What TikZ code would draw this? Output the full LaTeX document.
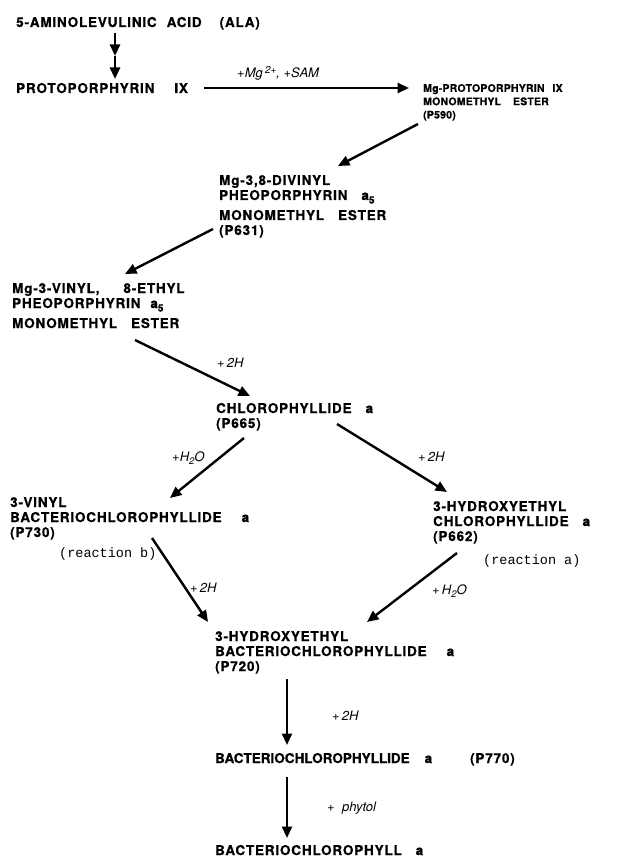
\documentclass[tikz,border=0pt]{standalone}
\usepackage{fontspec}
\setmainfont{TeX Gyre Heros}
\newfontfamily\chemfont[LetterSpace=6,BoldFeatures={FakeBold=0.6}]{TeX Gyre Heros}
\newfontfamily\chemS[LetterSpace=2,BoldFeatures={FakeBold=0.6}]{TeX Gyre Heros}
\newfontfamily\chemT[BoldFeatures={FakeBold=0.6}]{TeX Gyre Heros}
\newfontfamily\twfont{Liberation Mono}
\usetikzlibrary{arrows.meta}
\newcommand{\sfive}{\raisebox{-3.5pt}{\fontsize{10}{10}\selectfont 5}}
\begin{document}
\begin{tikzpicture}[x=1pt,y=-1pt,
  chem/.style={font=\chemfont\bfseries\fontsize{13.5}{15}\selectfont, anchor=base west, inner sep=0pt, align=left},
  chems/.style={chem, font=\chemS\bfseries\fontsize{10.5}{13.3}\selectfont},
  lbl/.style={font=\itshape\fontsize{13}{15}\selectfont, anchor=base west, inner sep=0pt},
  rxn/.style={font=\twfont\fontsize{13.5}{15}\selectfont, anchor=base west, inner sep=0pt},
  arr/.style={line width=2.4pt, -{Triangle[length=11.5pt,width=10pt]}}]
\useasboundingbox[fill=white] (0,0) rectangle (624,858);

% compounds (anchor = baseline of last line)
\node[chem] (ala) at (16,27) {5-AMINOLEVULINIC\hspace{10pt}ACID\hspace{18pt}(ALA)};
\node[chem] (proto) at (16,93) {PROTOPORPHYRIN\hspace{20pt}IX};
\node[chems] (mgp) at (423,118.5) {Mg-PROTOPORPHYRIN\hspace{8pt}IX\\MONOMETHYL\hspace{12pt}ESTER\\(P590)};
\node[chem] (dv) at (219,235) {Mg-3,8-DIVINYL\\PHEOPORPHYRIN\hspace{14pt}a\sfive\\[5pt]MONOMETHYL\hspace{14pt}ESTER\\(P631)};
\node[chem] (ve) at (12,328) {Mg-3-VINYL,\hspace{24pt}8-ETHYL\\PHEOPORPHYRIN\hspace{10pt}a\sfive\\[5pt]MONOMETHYL\hspace{14pt}ESTER};
\node[chem] (chl) at (216,428) {CHLOROPHYLLIDE\hspace{14pt}a\\(P665)};
\node[chem] (vb) at (10,537) {3-VINYL\\BACTERIOCHLOROPHYLLIDE\hspace{20pt}a\\(P730)};
\node[rxn] (rb) at (59,557) {(reaction b)};
\node[chem] (hec) at (433,541) {3-HYDROXYETHYL\\CHLOROPHYLLIDE\hspace{14pt}a\\(P662)};
\node[rxn] (ra) at (483,564) {(reaction a)};
\node[chem] (heb) at (215,671) {3-HYDROXYETHYL\\BACTERIOCHLOROPHYLLIDE\hspace{20pt}a\\(P720)};
\node[chem] (bcd) at (215,763) {{\chemT\bfseries\fontsize{13.5}{15}\selectfont BACTERIOCHLOROPHYLLIDE}\hspace{15pt}a\hspace{38pt}(P770)};
\node[chem] (bchl) at (215,855) {BACTERIOCHLOROPHYLL\hspace{14pt}a};

% labels
\node[lbl] (l1) at (237,78) {+Mg\,\raisebox{4.5pt}{\fontsize{10}{10}\selectfont 2+}, +SAM};
\node[lbl] (l2) at (217,367) {+\,2H};
\node[lbl] (l3) at (172,461) {+H\raisebox{-3pt}{\fontsize{9.5}{10}\selectfont 2}O};
\node[lbl] (l4) at (418,461) {+\,2H};
\node[lbl] (l5) at (190,592) {+\,2H};
\node[lbl] (l6) at (432,594) {+\,H\raisebox{-3pt}{\fontsize{9.5}{10}\selectfont 2}O};
\node[lbl] (l7) at (332,720) {+\,2H};
\node[lbl] (l8) at (327,811) {+\ \ phytol};

% arrow end points
\coordinate (a1) at (115,33); \coordinate (amid) at (115,56); \coordinate (a2) at (115,79);
\coordinate (h1) at (204,88); \coordinate (h2) at (409,88);
\coordinate (d1) at (418,124); \coordinate (d2) at (338,166);
\coordinate (e1) at (213,229); \coordinate (e2) at (125,274);
\coordinate (f1) at (135,340); \coordinate (f2) at (250,396);
\coordinate (g1) at (244,438); \coordinate (g2) at (170,498);
\coordinate (i1) at (337,424); \coordinate (i2) at (447,492);
\coordinate (j1) at (152,538); \coordinate (j2) at (208,622);
\coordinate (k1) at (457,553); \coordinate (k2) at (367,622);
\coordinate (m1) at (287,679); \coordinate (m2) at (287,745);
\coordinate (n1) at (287,777); \coordinate (n2) at (287,838);

\draw[arr] (a1) -- (amid);
\draw[arr] (amid) -- (a2);
\draw[arr] (h1) -- (h2);
\draw[arr] (d1) -- (d2);
\draw[arr] (e1) -- (e2);
\draw[arr] (f1) -- (f2);
\draw[arr] (g1) -- (g2);
\draw[arr] (i1) -- (i2);
\draw[arr] (j1) -- (j2);
\draw[arr] (k1) -- (k2);
\draw[arr] (m1) -- (m2);
\draw[arr] (n1) -- (n2);
\end{tikzpicture}
\end{document}
